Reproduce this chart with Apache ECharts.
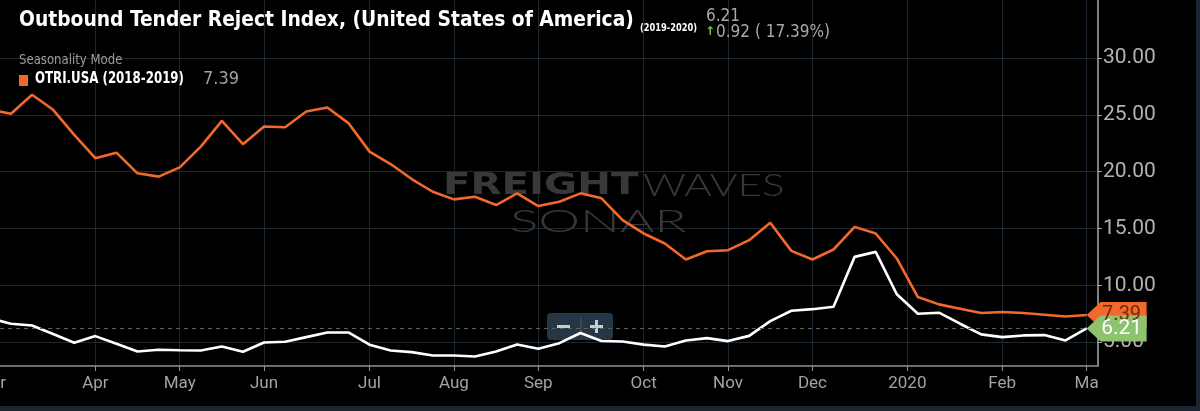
<!DOCTYPE html>
<html>
<head>
<meta charset="utf-8">
<script src="https://cdn.jsdelivr.net/npm/echarts@6/dist/echarts.min.js"></script>
<style>
  html, body { margin: 0; padding: 0; background: #000; }
  #chart { width: 1200px; height: 411px; }
</style>
</head>
<body>
<div id="chart"></div>
<script>
// week index (0 = first full week shown, -1 runs off the left edge)
var weekIndex = [-1, 0, 1, 2, 3, 4, 5, 6, 7, 8, 9, 10, 11, 12, 13, 14, 15, 16, 17, 18, 19, 20,
  21, 22, 23, 24, 25, 26, 27, 28, 29, 30, 31, 32, 33, 34, 35, 36, 37, 38, 39, 40, 41, 42, 43,
  44, 45, 46, 47, 48, 49, 50, 51];

// OTRI.USA 2018-2019 (seasonality, orange)
var otriPrev = [25.45, 25.1, 26.76, 25.44, 23.23, 21.18, 21.67, 19.85, 19.56, 20.38, 22.2, 24.47,
  22.41, 23.97, 23.91, 25.29, 25.64, 24.27, 21.76, 20.67, 19.35, 18.23, 17.56, 17.79, 17.06,
  18.09, 16.97, 17.35, 18.09, 17.65, 15.73, 14.56, 13.68, 12.27, 13.0, 13.09, 13.97, 15.5,
  13.03, 12.27, 13.15, 15.14, 14.56, 12.36, 8.97, 8.32, 7.94, 7.56, 7.65, 7.56, 7.41, 7.25, 7.39];

// OTRI.USA 2019-2020 (white)
var otriCur = [7.1, 6.62, 6.47, 5.72, 4.94, 5.53, 4.86, 4.18, 4.33, 4.29, 4.27, 4.62, 4.15, 4.97,
  5.03, 5.44, 5.85, 5.85, 4.77, 4.27, 4.12, 3.82, 3.82, 3.74, 4.18, 4.79, 4.42, 4.91, 5.8, 5.1,
  5.05, 4.78, 4.62, 5.15, 5.35, 5.09, 5.55, 6.85, 7.76, 7.9, 8.12, 12.5, 12.94, 9.21, 7.5, 7.59,
  6.62, 5.68, 5.44, 5.59, 5.62, 5.15, 6.21];

// month ticks on the week axis
var monthTicks = [4, 8, 12, 17, 21, 25, 30, 34, 38, 42.5, 47, 51];
var monthLabels = ['Apr', 'May', 'Jun', 'Jul', 'Aug', 'Sep', 'Oct', 'Nov', 'Dec', '2020', 'Feb', 'Ma'];

var yTicks = [5, 10, 15, 20, 25, 30];

function pairs(vals) {
  var out = [];
  for (var i = 0; i < vals.length; i++) out.push([weekIndex[i], vals[i]]);
  return out;
}

var lastPrev = otriPrev[otriPrev.length - 1];
var lastCur = otriCur[otriCur.length - 1];
var lastWeek = weekIndex[weekIndex.length - 1];
var prevYearCur = 5.29; // same week one year earlier, for the change readout
var change = lastCur - prevYearCur;

var tagPath = 'path://M0,13 L14,0 L60,0 L60,26 L14,26 Z';
var narrow = '"Liberation Sans Narrow", "DejaVu Sans Condensed", sans-serif';

var chart = echarts.init(document.getElementById('chart'), null, { renderer: 'canvas' });

var option = {
  backgroundColor: '#000000',
  animation: false,
  grid: { left: 0, right: 102, top: 0, bottom: 45, containLabel: false, outerBoundsMode: 'none' },
  xAxis: {
    type: 'value',
    min: -0.52,
    max: 51.54,
    axisLine: { show: true, onZero: false, lineStyle: { color: '#8e9296', width: 1.5 } },
    axisTick: { show: true, length: 5, lineStyle: { color: '#8e9296' }, customValues: monthTicks },
    axisLabel: {
      customValues: monthTicks,
      color: '#a3a3a3',
      fontFamily: 'Roboto',
      fontSize: 17,
      margin: 9,
      formatter: function (v) {
        var i = monthTicks.indexOf(v);
        return i >= 0 ? monthLabels[i] : '';
      }
    },
    splitLine: { show: true, lineStyle: { color: '#1c2731', width: 1 } }
  },
  yAxis: {
    type: 'value',
    position: 'right',
    min: 2.9,
    max: 35.1,
    axisLine: { show: true, onZero: false, lineStyle: { color: '#a4a9ae', width: 1.5 } },
    axisTick: { show: true, inside: false, length: 4, lineStyle: { color: '#a4a9ae' }, customValues: yTicks },
    axisLabel: {
      customValues: yTicks,
      color: '#b2b2b2',
      fontFamily: 'Roboto',
      fontSize: 21,
      margin: 5,
      formatter: function (v) { return v.toFixed(2); }
    },
    splitLine: { show: true, lineStyle: { color: '#1c2731', width: 1 } }
  },
  series: [
    {
      name: 'OTRI.USA (2018-2019)',
      type: 'line',
      data: pairs(otriPrev),
      showSymbol: false,
      symbol: 'none',
      z: 2,
      lineStyle: { color: '#f2692b', width: 2.6 },
      markPoint: {
        symbol: tagPath,
        symbolSize: [60, 26],
        symbolOffset: [30, 0],
        itemStyle: { color: '#f2692b' },
        label: {
          show: true,
          color: '#6e2a0e',
          fontFamily: 'Roboto',
          fontSize: 20,
          offset: [5, 0],
          formatter: function (p) { return p.value.toFixed(2); }
        },
        data: [{ coord: [lastWeek, lastPrev], value: lastPrev }]
      }
    },
    {
      name: 'OTRI.USA (2019-2020)',
      type: 'line',
      data: pairs(otriCur),
      showSymbol: false,
      symbol: 'none',
      z: 3,
      lineStyle: { color: '#ffffff', width: 2.6 },
      markLine: {
        symbol: 'none',
        silent: true,
        label: { show: false },
        lineStyle: { color: '#55664f', type: [4, 4], width: 1 },
        data: [{ yAxis: lastCur }]
      },
      markPoint: {
        symbol: tagPath,
        symbolSize: [60, 26],
        symbolOffset: [30, 0],
        itemStyle: { color: '#8dc26f' },
        label: {
          show: true,
          color: '#ffffff',
          fontFamily: 'Roboto',
          fontSize: 21,
          offset: [5, 0],
          formatter: function (p) { return p.value.toFixed(2); }
        },
        data: [{ coord: [lastWeek, lastCur], value: lastCur }]
      }
    }
  ],
  graphic: [
    // watermark
    { type: 'text', left: 443, top: 170, z: 1, silent: true, scaleX: 1.3,
      style: { text: 'FREIGHT', fill: '#383838', font: '900 31px "DejaVu Sans"' } },
    { type: 'text', left: 643, top: 170, z: 1, silent: true, scaleX: 1.36,
      style: { text: 'WAVES', fill: '#383838', font: '300 31px Lato' } },
    { type: 'text', left: 510, top: 206, z: 1, silent: true, scaleX: 1.65,
      style: { text: 'SONAR', fill: '#383838', font: '300 32px Lato' } },
    // title block
    { type: 'text', left: 19, top: 9, z: 10, scaleX: 0.945,
      style: { text: 'Outbound Tender Reject Index, (United States of America)', fill: '#ffffff',
        font: 'bold 22px ' + narrow } },
    { type: 'text', left: 640, top: 23, z: 10, scaleX: 0.92,
      style: { text: '(2019-2020)', fill: '#ffffff', font: 'bold 10px ' + narrow } },
    { type: 'text', left: 706, top: 8, z: 10,
      style: { text: lastCur.toFixed(2), fill: '#a9a9a9', font: '17px ' + narrow } },
    { type: 'text', left: 705, top: 26, z: 10,
      style: { text: '\u2191', fill: '#7cc242', font: 'bold 12px "DejaVu Sans", sans-serif' } },
    { type: 'text', left: 716, top: 24, z: 10,
      style: { text: change.toFixed(2) + ' ( ' + (change / prevYearCur * 100).toFixed(2) + '%)',
        fill: '#a9a9a9', font: '17px ' + narrow } },
    { type: 'text', left: 19, top: 53, z: 10, scaleX: 0.93,
      style: { text: 'Seasonality Mode', fill: '#9c9c9c', font: '14px ' + narrow } },
    { type: 'rect', left: 19, top: 75, z: 10, shape: { width: 9, height: 11 }, style: { fill: '#f2692b' } },
    { type: 'text', left: 35, top: 72, z: 10, scaleX: 0.876,
      style: { text: 'OTRI.USA (2018-2019)', fill: '#ffffff', font: 'bold 15px ' + narrow } },
    { type: 'text', left: 203, top: 70, z: 10,
      style: { text: lastPrev.toFixed(2), fill: '#a0a0a0', font: '18px ' + narrow } },
    // clipped month label at the left edge
    { type: 'text', right: 1194, top: 375, z: 10,
      style: { text: 'Mar', fill: '#a3a3a3', font: '17px Roboto' } },
    // zoom buttons
    { type: 'group', left: 547, top: 313, z: 20, children: [
      { type: 'rect', shape: { x: 0, y: 0, width: 66, height: 27, r: 4 }, style: { fill: '#263645' } },
      { type: 'line', shape: { x1: 34, y1: 5, x2: 34, y2: 22 }, style: { stroke: '#4a5968', lineWidth: 1 } },
      { type: 'rect', shape: { x: 10, y: 12, width: 13, height: 3 }, style: { fill: '#c4ccd4' } },
      { type: 'rect', shape: { x: 43, y: 12, width: 13, height: 3 }, style: { fill: '#c4ccd4' } },
      { type: 'rect', shape: { x: 48, y: 7, width: 3, height: 13 }, style: { fill: '#c4ccd4' } }
    ] },
    // frame on right and bottom
    { type: 'rect', left: 0, top: 406, z: 30, shape: { width: 1200, height: 5 }, style: { fill: '#1b2632' } },
    { type: 'rect', left: 1196, top: 0, z: 30, shape: { width: 4, height: 411 }, style: { fill: '#1b2632' } }
  ]
};

chart.setOption(option);
</script>
</body>
</html>
